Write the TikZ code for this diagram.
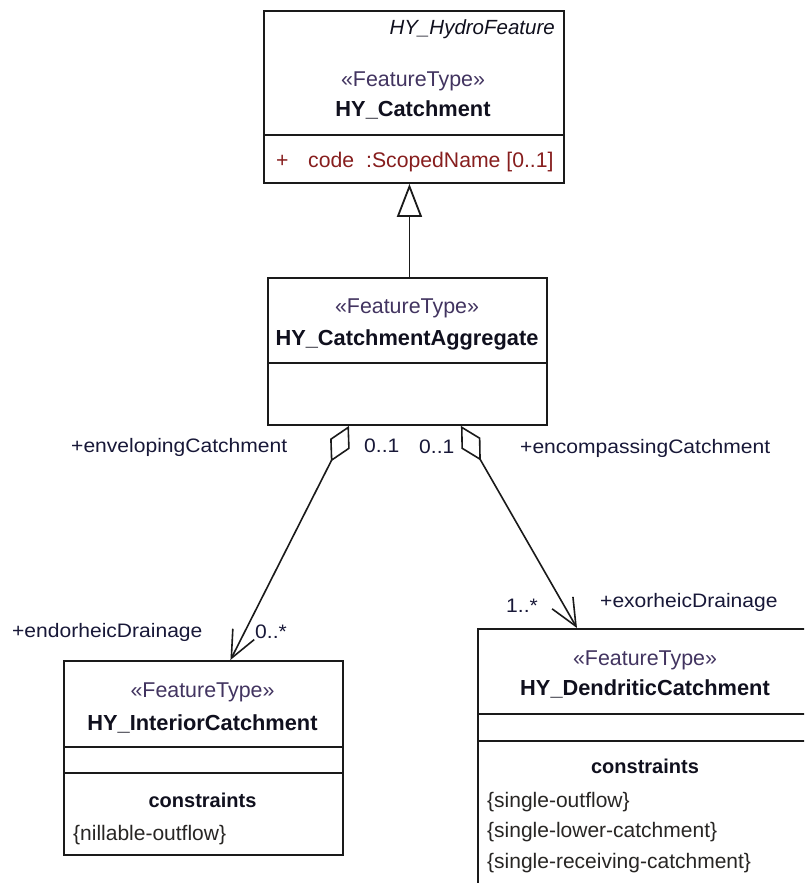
\documentclass[tikz,border=0pt]{standalone}
\usepackage{fontspec}
\setmainfont{Liberation Sans}
\newfontfamily\lblfont[FakeStretch=1.08]{Liberation Sans}
\usetikzlibrary{arrows.meta}
\definecolor{lblcol}{RGB}{24,24,56}
\definecolor{stcol}{RGB}{66,52,96}
\definecolor{namecol}{RGB}{16,16,30}
\definecolor{attrcol}{RGB}{135,30,30}
\definecolor{cnstcol}{RGB}{40,38,36}
\definecolor{linecol}{RGB}{26,26,26}
\tikzset{
  classbox/.style={draw=linecol, line width=1.9pt, fill=white, inner sep=0pt, rectangle},
  sepline/.style={draw=linecol, line width=1.9pt},
  txt/.style={inner sep=0pt, anchor=base},
  stereo/.style={txt, text=stcol, font=\fontsize{21.4}{25}\selectfont},
  cname/.style={txt, text=namecol, font=\bfseries\fontsize{21.8}{25}\selectfont},
  superc/.style={txt, anchor=base east, text=namecol, font=\itshape\fontsize{20.5}{24}\selectfont},
  attr/.style={txt, anchor=base west, text=attrcol, font=\fontsize{21.2}{25}\selectfont},
  cnsthead/.style={txt, text=namecol, font=\bfseries\fontsize{20}{24}\selectfont},
  cnst/.style={txt, anchor=base west, text=cnstcol, font=\fontsize{21}{25}\selectfont},
  lbl/.style={txt, anchor=base west, text=lblcol, font=\lblfont\fontsize{19.5}{23}\selectfont},
  genline/.style={draw=linecol, line width=1.8pt, arrows={-Triangle[open, length=33pt, width=25pt]}},
  aggline/.style={draw=linecol, line width=1.6pt, arrows={Diamond[open, length=40pt, width=22pt]-Straight Barb[length=27pt, width=24pt]}}
}
\begin{document}
\begin{tikzpicture}[x=1pt, y=-1pt]
\useasboundingbox (0,0) rectangle (804,883);
\clip (0,0) rectangle (804,883);
\fill[white] (0,0) rectangle (804,883);

% HY_Catchment
\node[classbox, minimum width=300pt, minimum height=172pt, anchor=north west] (hyc) at (263,10) {};
\draw[sepline] (hyc.west |- 0,135) -- (hyc.east |- 0,135);
\node[superc] (hycsup) at (555,35) {HY\_HydroFeature};
\node[stereo] (hycst) at (413,86) {«FeatureType»};
\node[cname] (hycname) at (413,116) {HY\_Catchment};
\node[attr] (hycplus) at (276,167) {+};
\node[attr] (hyccode) at (308,167) {code};
\node[attr] (hyctype) at (366,167) {:ScopedName [0..1]};

% HY_CatchmentAggregate
\node[classbox, minimum width=279pt, minimum height=147pt, anchor=north west] (agg) at (267,277) {};
\draw[sepline] (agg.west |- 0,363) -- (agg.east |- 0,363);
\node[stereo] (aggst) at (407,313) {«FeatureType»};
\node[cname] (aggname) at (407,345) {HY\_CatchmentAggregate};

% HY_InteriorCatchment
\node[classbox, minimum width=279pt, minimum height=194pt, anchor=north west] (inter) at (63,660) {};
\draw[sepline] (inter.west |- 0,747) -- (inter.east |- 0,747);
\draw[sepline] (inter.west |- 0,773) -- (inter.east |- 0,773);
\node[stereo] (interst) at (202.5,697) {«FeatureType»};
\node[cname] (intername) at (202.5,730) {HY\_InteriorCatchment};
\node[cnsthead] (interch) at (202.5,807) {constraints};
\node[cnst] (interc1) at (73,840) {\{nillable-outflow\}};

% HY_DendriticCatchment
\node[classbox, minimum width=336pt, minimum height=272pt, anchor=north west] (dend) at (477,628) {};
\draw[sepline] (dend.west |- 0,714) -- (dend.east |- 0,714);
\draw[sepline] (dend.west |- 0,741) -- (dend.east |- 0,741);
\node[stereo] (dendst) at (645,665) {«FeatureType»};
\node[cname] (dendname) at (645,695) {HY\_DendriticCatchment};
\node[cnsthead] (dendch) at (645,773) {constraints};
\node[cnst] (dendc1) at (487,807) {\{single-outflow\}};
\node[cnst] (dendc2) at (487,837) {\{single-lower-catchment\}};
\node[cnst] (dendc3) at (487,868) {\{single-receiving-catchment\}};

% connectors
\draw[genline] ([xshift=2pt]agg.north) -- ([xshift=-4.5pt]hyc.south);
\draw[aggline] ([xshift=-58.5pt]agg.south) -- ([xshift=27pt]inter.north);
\draw[aggline] ([xshift=53.5pt]agg.south) -- ([xshift=-69pt]dend.north);

% role labels
\node[lbl] (l1) at (71,452) {+envelopingCatchment};
\node[lbl] (l2) at (364,452) {0..1};
\node[lbl] (l3) at (419,453) {0..1};
\node[lbl] (l4) at (520,453) {+encompassingCatchment};
\node[lbl] (l5) at (12,637) {+endorheicDrainage};
\node[lbl] (l6) at (255,638) {0..*};
\node[lbl] (l7) at (506,612) {1..*};
\node[lbl] (l8) at (600,607) {+exorheicDrainage};
\end{tikzpicture}
\end{document}
